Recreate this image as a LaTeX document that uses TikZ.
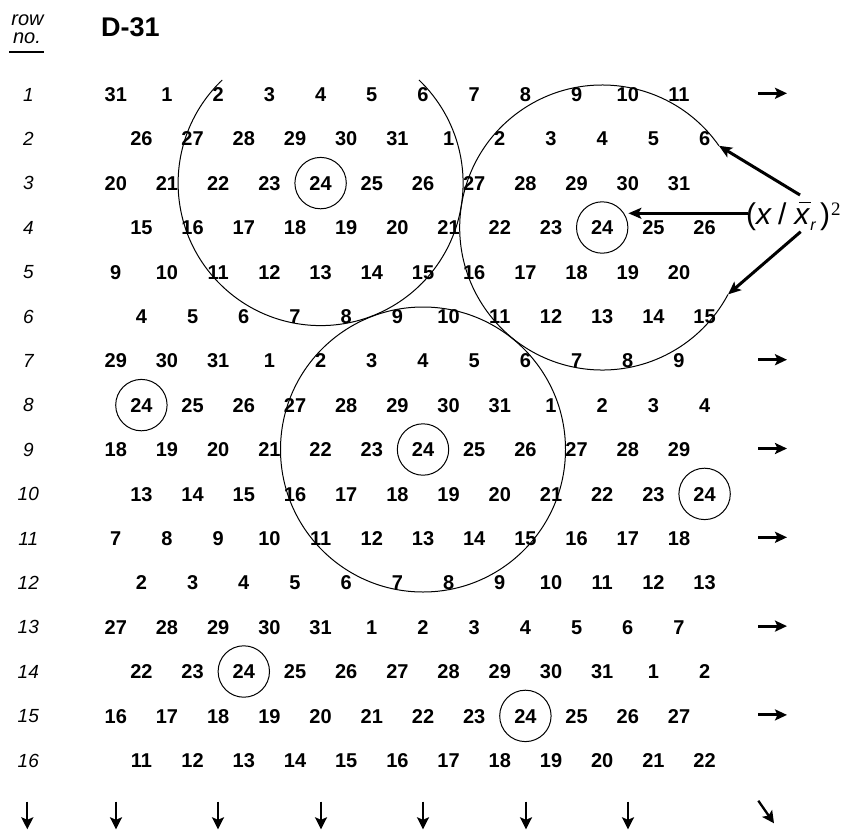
\documentclass[tikz,border=0pt]{standalone}
\usepackage{fontspec}
\setmainfont{Liberation Sans}
\newfontfamily\serifnum{Liberation Serif}
\usetikzlibrary{arrows.meta}
\begin{document}
\begin{tikzpicture}[x=1pt,y=-1pt,
  num/.style={font=\fontsize{20}{20}\selectfont\bfseries, inner sep=0pt, text height=14.3pt, text depth=0pt},
  rowlab/.style={font=\fontsize{19}{20}\selectfont\itshape, inner sep=0pt, text height=13.6pt, text depth=0pt},
  hdr/.style={font=\fontsize{20}{22}\selectfont\itshape, inner sep=0pt, anchor=base},
  smallring/.style={circle, draw, line width=1pt, minimum size=51.4pt, inner sep=0pt},
  bigarc/.style={draw, line width=1pt},
  pointer/.style={line width=3pt, -{Stealth[length=13pt,width=11pt,inset=3pt]}},
  rarrow/.style={line width=3pt, -{Stealth[length=12pt,width=11pt,inset=2.5pt]}},
  darrow/.style={line width=2.3pt, -{Stealth[length=12pt,width=12pt,inset=2.5pt]}},
]
\useasboundingbox (0,0) rectangle (854,833);
% header
\node[hdr] (hrow) at (27.5,25) {row};
\node[hdr] (hno) at (27,43.3) {no.};
\coordinate (ul1) at (9.3,51.7);
\coordinate (ul2) at (44.3,51.7);
\draw[line width=1.8pt] (ul1) -- (ul2);
\node[font=\fontsize{27}{30}\selectfont\bfseries, anchor=base, inner sep=0pt] (title) at (130.3,36) {D-31};
% grid of numbers
\foreach \rw/\s in {1/31,2/26,3/20,4/15,5/9,6/4,7/29,8/24,9/18,10/13,11/7,12/2,13/27,14/22,15/16,16/11} {
  \pgfmathsetmacro\ry{94.3+44.4*(\rw-1)}
  \pgfmathsetmacro\rx{mod(\rw,2)==1 ? 115.8 : 141.4}
  \node[rowlab] (r\rw) at (28.3,\ry) {\rw};
  \foreach \k in {0,...,11} {
    \pgfmathtruncatemacro\v{mod(\s-1+\k,31)+1}
    \node[num] (n-\rw-\k) at (\rx+51.2*\k,\ry) {\v};
  }
}
% small rings
\foreach \rw/\k in {3/4,4/9,8/0,9/6,10/11,14/2,15/8}
  \node[smallring] (s-\rw-\k) at (n-\rw-\k) {};
% big circles
\draw[bigarc] ([shift={(133.65:142.5pt)}]n-3-4.center) arc[start angle=133.65, end angle=406.35, radius=142.5pt];
\draw[bigarc] ([shift={(35:142.5pt)}]n-4-9.center) arc[start angle=35, end angle=332, radius=142.5pt];
\draw[bigarc] (n-9-6.center) circle[radius=142.5pt];
% formula
\node[inner sep=0pt, anchor=base west, font=\fontsize{30}{32}\selectfont] (f) at (746,224.5)
  {(\textit{x}\hspace{6pt}/\hspace{8pt}\makebox[0pt][l]{\hspace{4.5pt}\raisebox{21.3pt}{\rule{12pt}{1.5pt}}}\textit{x}\raisebox{-5.5pt}{\fontsize{16}{18}\selectfont\textit{r}}\hspace{4pt})\hspace{1pt}\raisebox{9.5pt}{\serifnum\fontsize{19}{20}\selectfont 2}};
\coordinate (fu) at ([shift={(54,-29.5)}]f.base west);
\coordinate (fd) at ([shift={(54.7,7.2)}]f.base west);
\coordinate (fh) at ([shift={(2,-11.2)}]f.base west);
\coordinate (b1) at ([shift={(35:142.5pt)}]n-4-9.center);
\coordinate (b2) at ([shift={(-28:142.5pt)}]n-4-9.center);
\draw[pointer] (fu) -- (b1);
\draw[pointer] (fd) -- (b2);
\draw[pointer] (fh) -- (fh -| s-4-9.east);
% row arrows
\foreach \rw in {1,7,9,11,13,15} {
  \coordinate (ra\rw) at (758,{94.3+44.4*(\rw-1)-1});
  \coordinate (rb\rw) at (787,{94.3+44.4*(\rw-1)-1});
  \draw[rarrow] (ra\rw) -- (rb\rw);
}
% bottom arrows
\foreach \i/\xx in {1/27.3,2/116,3/218,4/321,5/423,6/526,7/628} {
  \coordinate (da\i) at (\xx,801.7);
  \coordinate (db\i) at (\xx,829.3);
  \draw[darrow] (da\i) -- (db\i);
}
\coordinate (dga) at (758.3,800.7);
\coordinate (dgb) at (774,823.3);
\draw[darrow] (dga) -- (dgb);
\end{tikzpicture}
\end{document}
